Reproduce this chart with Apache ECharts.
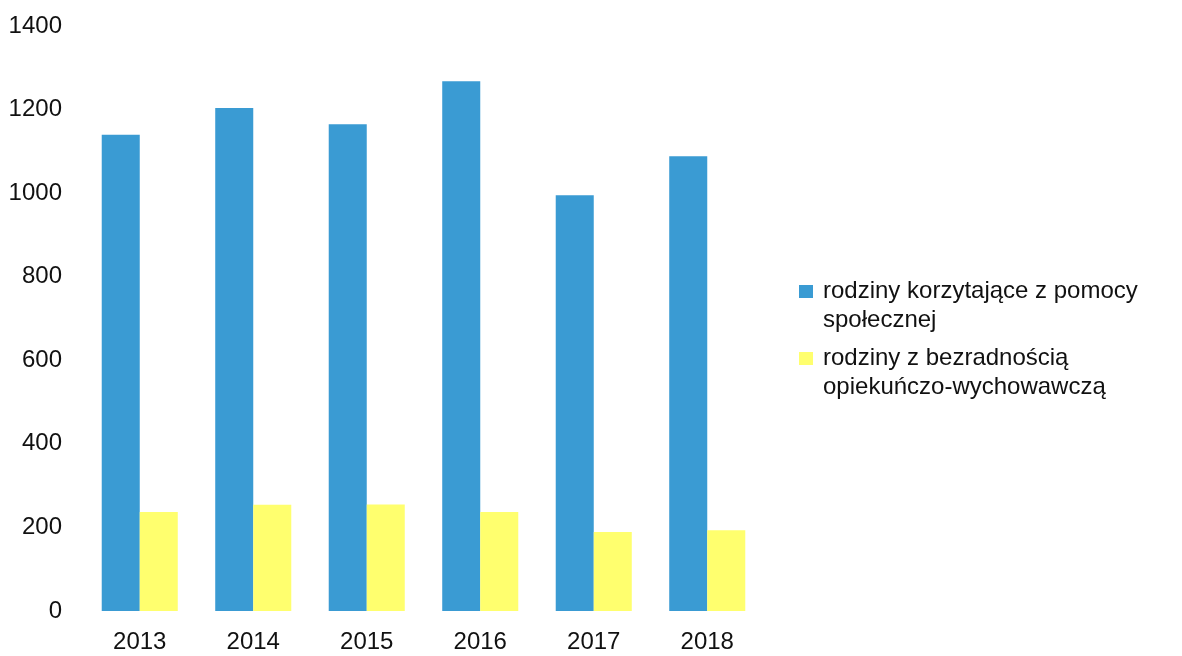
<!DOCTYPE html>
<html>
<head>
<meta charset="utf-8">
<script src="https://cdn.jsdelivr.net/npm/echarts@6/dist/echarts.min.js"></script>
<style>
html,body{margin:0;padding:0;background:#fff;}
#chart{width:1182px;height:656px;}
</style>
</head>
<body>
<div id="chart"></div>
<script>
const categories = ['2013', '2014', '2015', '2016', '2017', '2018'];
const seriesNames = ['rodziny korzytające z pomocy społecznej', 'rodziny z bezradnością opiekuńczo-wychowawczą'];
const legendLabels = ['rodziny korzytające z pomocy\nspołecznej', 'rodziny z bezradnością\nopiekuńczo-wychowawczą'];
const socialHelp = [1140, 1204, 1165, 1268, 995, 1088];
const helplessness = [237, 254, 255, 237, 189, 193];
const yTicks = { min: 0, max: 1400, interval: 200 };

const chart = echarts.init(document.getElementById('chart'));
const font = 'Liberation Sans';
const legendText = {
  fontFamily: font, fontSize: 24, color: '#111', lineHeight: 29,
  padding: [0, 0, 0, 5]
};
function legendFmt(name) {
  return ' \n' + legendLabels[seriesNames.indexOf(name)];
}
chart.setOption({
  backgroundColor: '#fff',
  animation: false,
  grid: { left: 83, right: 418, top: 26, bottom: 45 },
  legend: [
    { data: [seriesNames[0]], orient: 'vertical', left: 799, top: 248, padding: 0,
      itemWidth: 14, itemHeight: 13, icon: 'rect', textStyle: legendText, formatter: legendFmt },
    { data: [seriesNames[1]], orient: 'vertical', left: 799, top: 315, padding: 0,
      itemWidth: 14, itemHeight: 13, icon: 'rect', textStyle: legendText, formatter: legendFmt }
  ],
  xAxis: {
    type: 'category', data: categories,
    axisLine: { show: false }, axisTick: { show: false },
    axisLabel: { fontFamily: font, fontSize: 24, color: '#111', margin: 19 }
  },
  yAxis: {
    type: 'value', min: yTicks.min, max: yTicks.max, interval: yTicks.interval,
    axisLine: { show: false }, axisTick: { show: false }, splitLine: { show: false },
    axisLabel: { fontFamily: font, fontSize: 24, color: '#111', margin: 21,
      formatter: function (v) { return String(v); } }
  },
  series: [
    { name: seriesNames[0], type: 'bar', data: socialHelp, barGap: '0%', barCategoryGap: '33%',
      itemStyle: { color: '#3a9bd3' } },
    { name: seriesNames[1], type: 'bar', data: helplessness, barGap: '0%', barCategoryGap: '33%',
      itemStyle: { color: '#ffff6e' } }
  ]
});
</script>
</body>
</html>
